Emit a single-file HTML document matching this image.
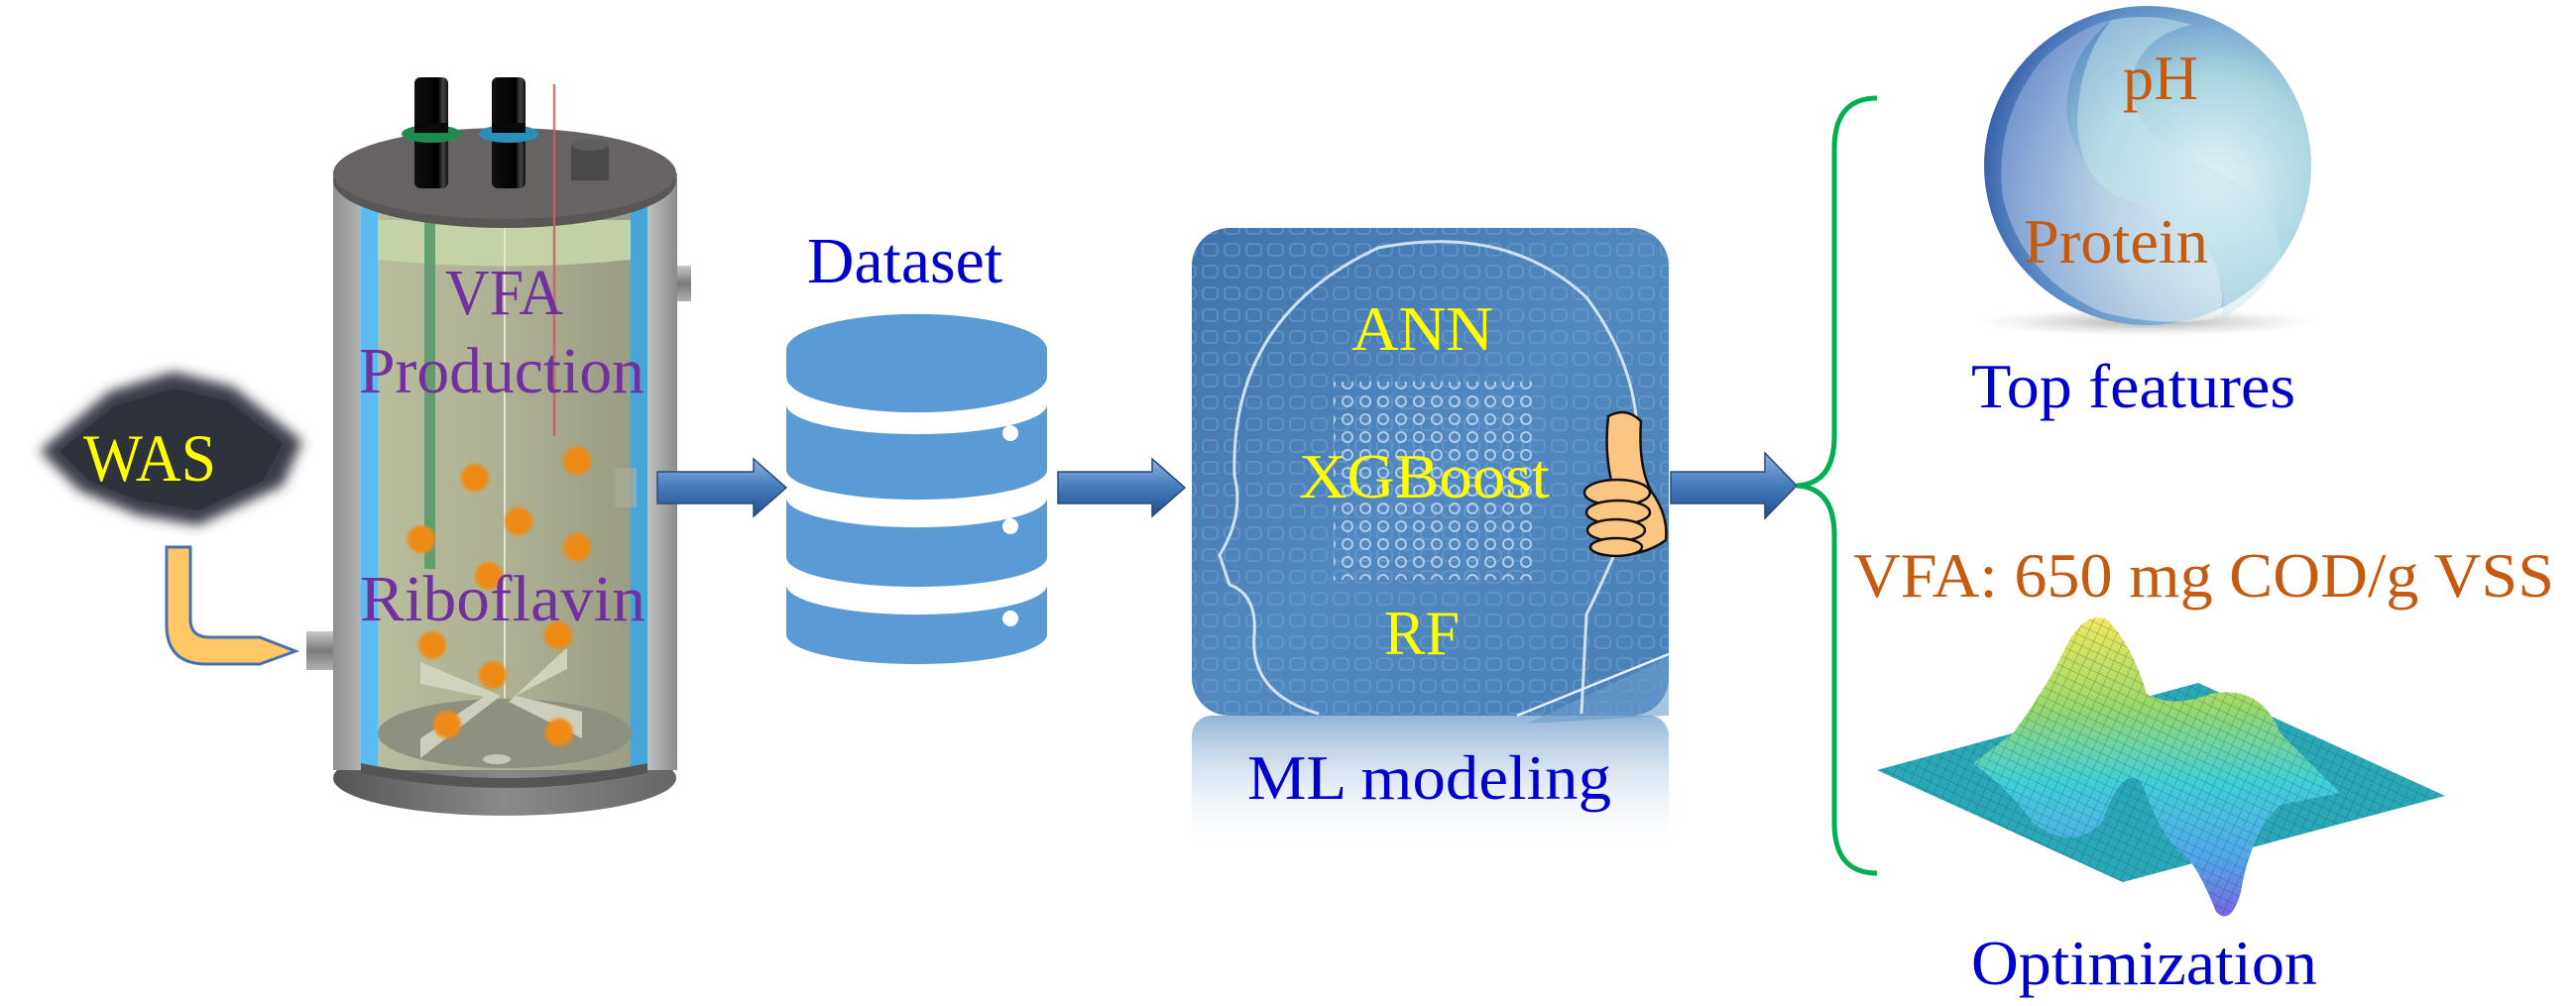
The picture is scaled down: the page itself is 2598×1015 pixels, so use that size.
<!DOCTYPE html>
<html><head><meta charset="utf-8">
<style>
html,body{margin:0;padding:0;background:#fff;}
svg{display:block;}
svg text{font-family:"Liberation Serif","Times New Roman",serif !important;}
</style></head>
<body>
<svg width="2598" height="1015" viewBox="0 0 2598 1015" xmlns="http://www.w3.org/2000/svg" font-family="Liberation Serif, serif">
<defs>
  <filter id="blur6" x="-20%" y="-20%" width="140%" height="140%"><feGaussianBlur stdDeviation="6"/></filter>
  <filter id="blur2"><feGaussianBlur stdDeviation="1.5"/></filter>
  <linearGradient id="wall" x1="0" x2="1">
    <stop offset="0" stop-color="#8e8e8e"/><stop offset="0.08" stop-color="#b4b4b4"/>
    <stop offset="0.5" stop-color="#9c9c9c"/><stop offset="0.92" stop-color="#bdbdbd"/><stop offset="1" stop-color="#8a8a8a"/>
  </linearGradient>
  <linearGradient id="liquid" x1="0" x2="1">
    <stop offset="0" stop-color="#b8bd9c"/><stop offset="0.5" stop-color="#aeb193"/><stop offset="1" stop-color="#9a9d84"/>
  </linearGradient>
  <linearGradient id="bottom" x1="0" x2="1">
    <stop offset="0" stop-color="#555"/><stop offset="0.5" stop-color="#8a8a8a"/><stop offset="1" stop-color="#666"/>
  </linearGradient>
  <linearGradient id="tube" x1="0" x2="1">
    <stop offset="0" stop-color="#111"/><stop offset="0.7" stop-color="#000"/><stop offset="0.85" stop-color="#444"/><stop offset="1" stop-color="#111"/>
  </linearGradient>
  <linearGradient id="arrow" x1="0" y1="0" x2="0" y2="1">
    <stop offset="0" stop-color="#8fb4e0"/><stop offset="0.45" stop-color="#4a7fc0"/><stop offset="1" stop-color="#1f4f8a"/>
  </linearGradient>
  <linearGradient id="stub" x1="0" y1="0" x2="0" y2="1">
    <stop offset="0" stop-color="#c8c8c8"/><stop offset="0.5" stop-color="#7a7a7a"/><stop offset="1" stop-color="#b0b0b0"/>
  </linearGradient>
  <linearGradient id="mlbox" x1="0" y1="0" x2="1" y2="1">
    <stop offset="0" stop-color="#3f73aa"/><stop offset="0.5" stop-color="#5288c0"/><stop offset="1" stop-color="#4a80b8"/>
  </linearGradient>
  <linearGradient id="refl" x1="0" y1="0" x2="0" y2="1">
    <stop offset="0" stop-color="#6e9ccc" stop-opacity="0.75"/><stop offset="1" stop-color="#ffffff" stop-opacity="0"/>
  </linearGradient>
  <pattern id="grid" width="22" height="22" patternUnits="userSpaceOnUse">
    <rect x="3" y="4" width="15" height="12" rx="4" fill="none" stroke="#7aa6d4" stroke-width="1.6" opacity="0.55"/>
  </pattern>
  <pattern id="chip" width="18" height="18" patternUnits="userSpaceOnUse">
    <circle cx="9" cy="9" r="5" fill="none" stroke="#d8e8f8" stroke-width="2" opacity="0.7"/>
  </pattern>
  <radialGradient id="sph" cx="0.7" cy="0.55" r="0.75">
    <stop offset="0" stop-color="#e4f4f6"/><stop offset="0.45" stop-color="#a8d4e0"/><stop offset="0.8" stop-color="#5b8cc4"/><stop offset="1" stop-color="#2a50a0"/>
  </radialGradient>
  <linearGradient id="swirl" x1="0" y1="0" x2="1" y2="1">
    <stop offset="0" stop-color="#8aa0d8"/><stop offset="1" stop-color="#f4f8fa"/>
  </linearGradient>
  <radialGradient id="shadow" cx="0.5" cy="0.5" r="0.5">
    <stop offset="0" stop-color="#777" stop-opacity="0.6"/><stop offset="1" stop-color="#aaa" stop-opacity="0"/>
  </radialGradient>
  <linearGradient id="surf" x1="0" y1="0" x2="0" y2="1">
    <stop offset="0" stop-color="#f2e85a"/><stop offset="0.3" stop-color="#9ad86a"/><stop offset="0.55" stop-color="#40d0d8"/><stop offset="0.8" stop-color="#50a8e8"/><stop offset="1" stop-color="#7a66e0"/>
  </linearGradient>
  <pattern id="mesh" width="9" height="9" patternUnits="userSpaceOnUse" patternTransform="rotate(25)">
    <path d="M0 0H9M0 0V9" stroke="#1a3a50" stroke-width="1" opacity="0.45"/>
  </pattern>
</defs>

<!-- WAS blob -->
<path d="M40 455 L110 395 L175 375 L235 390 L305 445 L285 490 L200 530 L140 520 L80 495 Z" fill="#3a3d48" filter="url(#blur6)"/>
<path d="M60 455 L115 410 L175 392 L230 405 L285 448 L265 485 L200 515 L140 505 L90 485 Z" fill="#2c2f38" opacity="0.8"/>
<text x="84" y="485" font-size="68" fill="#ffff00" textLength="134" lengthAdjust="spacingAndGlyphs">WAS</text>

<!-- orange pipe -->
<path d="M168 552 L192 552 L192 625 Q192 643 212 643 L262 643 L298 657 L262 670 L208 670 Q168 670 168 630 Z" fill="#ffc864" stroke="#4a6fb0" stroke-width="3"/>
<rect x="309" y="637" width="28" height="39" fill="url(#stub)"/>

<!-- reactor -->
<ellipse cx="509" cy="785" rx="173" ry="38" fill="url(#bottom)"/>
<rect x="336" y="175" width="347" height="602" fill="url(#wall)"/>
<rect x="364" y="200" width="17" height="575" fill="#5bbcf2"/>
<rect x="636" y="200" width="17" height="575" fill="#46a6d8"/>
<rect x="381" y="200" width="255" height="577" fill="url(#liquid)"/>
<path d="M381 222 L636 222 L636 262 Q509 275 381 262 Z" fill="#c6d6a8" opacity="0.9"/>
<ellipse cx="509" cy="740" rx="128" ry="35" fill="#8e9080"/>
<path d="M364 770 Q509 800 653 770 L653 780 Q509 810 364 780 Z" fill="#555"/>
<rect x="428" y="222" width="11" height="352" fill="#5a9a6a" opacity="0.9"/>
<line x1="509" y1="222" x2="509" y2="705" stroke="#e0e4d0" stroke-width="2"/>
<path d="M424 668 L505 702 L424 765 L424 745 L488 703 L424 690 Z" fill="#d4d6c0" opacity="0.9"/>
<path d="M572 655 L572 675 L520 702 L587 718 L587 745 L513 708 L570 655 Z" fill="#d4d6c0" opacity="0.9"/>
<ellipse cx="501" cy="766" rx="14" ry="5" fill="#c8c8b8"/>
<ellipse cx="509" cy="182" rx="173" ry="48" fill="#5a5656"/>
<ellipse cx="509" cy="175" rx="173" ry="46" fill="#676363"/>
<rect x="418" y="78" width="34" height="112" rx="6" fill="url(#tube)"/>
<rect x="496" y="78" width="34" height="112" rx="6" fill="url(#tube)"/>
<ellipse cx="435" cy="135" rx="30" ry="9" fill="#1e8a50"/>
<rect x="418" y="124" width="34" height="10" fill="#0a0a0a"/>
<ellipse cx="513" cy="135" rx="30" ry="9" fill="#2a90b8"/>
<rect x="496" y="124" width="34" height="10" fill="#0a0a0a"/>
<line x1="559" y1="85" x2="559" y2="440" stroke="#c86060" stroke-width="2.5" opacity="0.85"/>
<rect x="576" y="146" width="38" height="36" fill="#4a4a4a"/>
<ellipse cx="595" cy="146" rx="19" ry="6" fill="#5e5e5e"/>
<rect x="683" y="268" width="14" height="36" fill="url(#stub)"/>
<rect x="620" y="472" width="22" height="40" fill="#a9ad98" opacity="0.7"/>
<g fill="#f08a12" filter="url(#blur2)">
<circle cx="479" cy="482" r="14"/><circle cx="582" cy="465" r="14"/><circle cx="523" cy="526" r="14"/>
<circle cx="425" cy="544" r="14"/><circle cx="582" cy="552" r="14"/><circle cx="493" cy="581" r="14"/>
<circle cx="436" cy="651" r="14"/><circle cx="563" cy="641" r="14"/><circle cx="497" cy="681" r="14"/>
<circle cx="451" cy="731" r="14"/><circle cx="564" cy="739" r="14"/>
</g>
<g fill="#7030a0">
<text x="449" y="317" font-size="66" textLength="119" lengthAdjust="spacingAndGlyphs">VFA</text>
<text x="362" y="396" font-size="66" textLength="288" lengthAdjust="spacingAndGlyphs">Production</text>
<text x="363" y="626" font-size="66" textLength="288" lengthAdjust="spacingAndGlyphs">Riboflavin</text>
</g>

<path d="M663 476 L760 476 L760 463 L793 492 L760 521 L760 508 L663 508 Z" fill="url(#arrow)" stroke="#2a4a7a" stroke-width="1.5"/>

<text x="814" y="285" font-size="66" fill="#0000cc" textLength="197" lengthAdjust="spacingAndGlyphs">Dataset</text>
<g fill="#5b9bd5">
<path d="M793 353 A131 36 0 0 1 1056 353 L1056 380 A131 36 0 0 1 793 380 Z"/>
<path d="M793 408 A131 30 0 0 0 1056 408 L1056 474 A131 30 0 0 1 793 474 Z"/>
<path d="M793 502 A131 30 0 0 0 1056 502 L1056 562 A131 30 0 0 1 793 562 Z"/>
<path d="M793 590 A131 30 0 0 0 1056 590 L1056 640 A131 30 0 0 1 793 640 Z"/>
</g>
<g fill="#fff"><circle cx="1019" cy="437" r="8"/><circle cx="1019" cy="531" r="8"/><circle cx="1019" cy="624" r="8"/></g>

<path d="M1067 476 L1162 476 L1162 463 L1195 492 L1162 521 L1162 508 L1067 508 Z" fill="url(#arrow)" stroke="#2a4a7a" stroke-width="1.5"/>

<rect x="1202" y="722" width="481" height="140" rx="20" fill="url(#refl)"/>
<rect x="1202" y="230" width="481" height="492" rx="38" fill="url(#mlbox)"/>
<rect x="1202" y="230" width="481" height="492" rx="38" fill="url(#grid)"/>
<rect x="1345" y="385" width="200" height="200" fill="url(#chip)"/>
<path d="M1540 730 L1683 663 L1683 722 Z" fill="#6a9ccc" opacity="0.6"/>
<line x1="1530" y1="722" x2="1683" y2="660" stroke="#e6f0fa" stroke-width="2.5"/>
<path d="M1330 720 Q1260 700 1265 640 Q1268 600 1240 590 L1230 560 Q1255 520 1245 480 Q1240 320 1390 250 Q1520 225 1600 300 Q1660 380 1650 470 L1645 520 Q1620 580 1600 620 L1595 720"
 fill="none" stroke="#e8f2fc" stroke-width="3" opacity="0.85"/>
<g fill="#ffff00">
<text x="1363" y="353" font-size="64" textLength="143" lengthAdjust="spacingAndGlyphs">ANN</text>
<text x="1310" y="502" font-size="64" textLength="253" lengthAdjust="spacingAndGlyphs">XGBoost</text>
<text x="1396" y="660" font-size="64" textLength="76" lengthAdjust="spacingAndGlyphs">RF</text>
</g>
<g stroke="#111" stroke-width="2.5" fill="#fcc682">
<path d="M1622 420 Q1640 410 1655 425 Q1652 470 1665 495 Q1683 520 1680 545 Q1660 560 1630 560 L1625 485 Q1618 455 1622 420 Z"/>
<ellipse cx="1631" cy="497" rx="33" ry="13"/>
<ellipse cx="1632" cy="517" rx="32" ry="12"/>
<ellipse cx="1630" cy="535" rx="29" ry="11"/>
<ellipse cx="1630" cy="552" rx="26" ry="9"/>
</g>
<text x="1258" y="806" font-size="64" fill="#0000cc" textLength="367" lengthAdjust="spacingAndGlyphs">ML modeling</text>

<path d="M1685 476 L1780 476 L1780 457 L1812 490 L1780 523 L1780 508 L1685 508 Z" fill="url(#arrow)" stroke="#2a4a7a" stroke-width="1.5"/>

<path d="M1893 99 Q1850 99 1850 150 L1850 440 Q1850 488 1812 490 Q1850 492 1850 540 L1850 830 Q1850 881 1893 881" fill="none" stroke="#00b050" stroke-width="5"/>

<ellipse cx="2166" cy="325" rx="170" ry="14" fill="url(#shadow)"/>
<ellipse cx="2166" cy="167" rx="165" ry="161" fill="url(#sph)"/>
<path d="M2130 20 Q2080 60 2085 120 Q2095 180 2160 200 Q2230 225 2240 290 Q2245 315 2230 322 Q2180 330 2120 315 Q2040 280 2020 200 Q2010 120 2060 60 Q2095 28 2130 20 Z" fill="url(#swirl)" opacity="0.55"/>
<path d="M2130 20 Q2170 12 2210 25 Q2150 40 2150 90 Q2155 140 2220 165 Q2300 200 2300 260 Q2280 300 2240 322 Q2250 280 2215 245 Q2180 215 2140 200 Q2095 180 2095 120 Q2098 55 2130 20 Z" fill="#c8e6ee" opacity="0.5"/>
<text x="2141" y="100" font-size="64" fill="#c55a11" textLength="76" lengthAdjust="spacingAndGlyphs">pH</text>
<text x="2041" y="265" font-size="64" fill="#c55a11" textLength="186" lengthAdjust="spacingAndGlyphs">Protein</text>
<text x="1988" y="411" font-size="64" fill="#0000cc" textLength="327" lengthAdjust="spacingAndGlyphs">Top features</text>

<text x="1869" y="602" font-size="64" fill="#c55a11" textLength="707" lengthAdjust="spacingAndGlyphs">VFA: 650 mg COD/g VSS</text>
<path d="M1893 777 L2217 689 L2466 803 L2141 890 Z" fill="#2aa8b8"/>
<path d="M1893 777 L2217 689 L2466 803 L2141 890 Z" fill="url(#mesh)"/>
<path d="M2030 740 Q2060 700 2080 660 Q2100 615 2125 625 Q2150 650 2165 700 Q2190 715 2230 700 Q2280 690 2300 740 Q2330 770 2360 800 L2300 812 Q2270 840 2260 900 Q2250 935 2235 920 Q2215 870 2200 860 Q2180 845 2160 790 Q2140 770 2120 830 Q2090 860 2050 830 Q2030 800 1990 770 Z" fill="url(#surf)"/>
<path d="M2030 740 Q2060 700 2080 660 Q2100 615 2125 625 Q2150 650 2165 700 Q2190 715 2230 700 Q2280 690 2300 740 Q2330 770 2360 800 L2300 812 Q2270 840 2260 900 Q2250 935 2235 920 Q2215 870 2200 860 Q2180 845 2160 790 Q2140 770 2120 830 Q2090 860 2050 830 Q2030 800 1990 770 Z" fill="url(#mesh)"/>
<text x="1988" y="993" font-size="64" fill="#0000cc" textLength="349" lengthAdjust="spacingAndGlyphs">Optimization</text>
</svg>
</body></html>
